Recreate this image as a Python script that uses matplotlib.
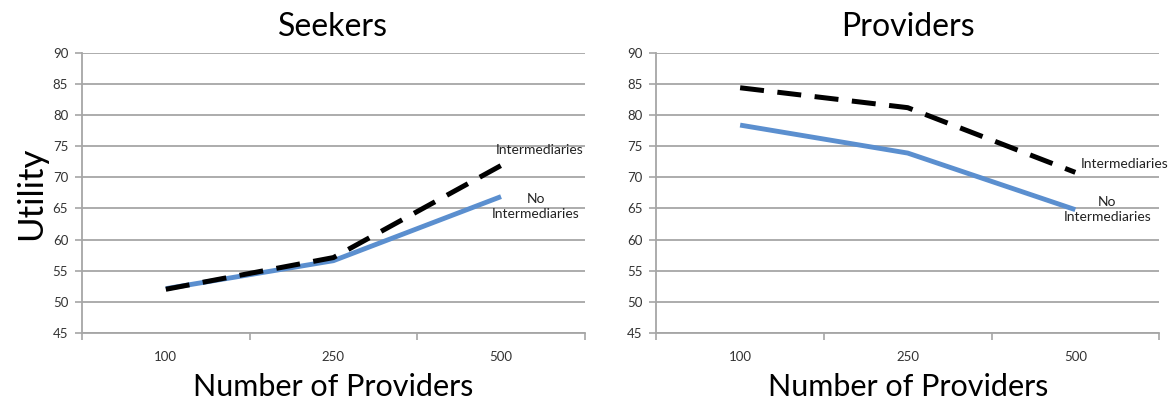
import matplotlib
matplotlib.use("Agg")
import matplotlib.pyplot as plt

plt.rcParams['font.family'] = ['Lato', 'DejaVu Sans']

categories = ['100', '250', '500']
y_ticks = [45, 50, 55, 60, 65, 70, 75, 80, 85, 90]

seekers_no_int = [52.1, 56.6, 66.9]
seekers_int = [52.0, 57.1, 71.9]
providers_no_int = [78.4, 73.9, 64.8]
providers_int = [84.4, 81.2, 70.8]

# title, series, axes rect, label offsets (points) for the two end labels
panels = [
    ('Seekers', seekers_no_int, seekers_int, [0.070, 0.170, 0.429, 0.698],
     (-4, 11), (25, -7)),
    ('Providers', providers_no_int, providers_int, [0.560, 0.170, 0.429, 0.698],
     (4, 6), (23, 0)),
]

fig = plt.figure(figsize=(11.72, 4.01), dpi=100)
grid_col = '#a6a6a6'
blue = '#5b8fcf'

for i, (title, no_int, inter, rect, off_int, off_no) in enumerate(panels):
    ax = fig.add_axes(rect)
    x = list(range(len(categories)))
    ax.plot(x, no_int, color=blue, lw=3.5, solid_capstyle='butt', zorder=3)
    ax.plot(x, inter, color='black', lw=3.6, dashes=(4.8, 2.7), zorder=4)

    ax.set_xlim(-0.5, 2.5)
    ax.set_ylim(45, 90)
    ax.set_yticks(y_ticks)
    ax.set_xticks(x)
    ax.set_xticklabels(categories)
    ax.set_xticks([-0.5, 0.5, 1.5, 2.5], minor=True)
    ax.tick_params(axis='x', which='major', length=0, pad=13, labelsize=9.5, labelcolor='#333333')
    ax.tick_params(axis='x', which='minor', length=5, color=grid_col, width=1.2)
    ax.tick_params(axis='y', length=5, color=grid_col, width=1.2, labelsize=9.5,
                   labelcolor='#333333', pad=5)
    ax.grid(axis='y', color=grid_col, lw=1.3)
    ax.set_axisbelow(True)
    for s in ['top', 'right']:
        ax.spines[s].set_visible(False)
    for s in ['left', 'bottom']:
        ax.spines[s].set_color(grid_col)
        ax.spines[s].set_linewidth(1.3)

    ax.set_title(title, fontsize=23, pad=12)
    ax.set_xlabel('Number of Providers', fontsize=22, labelpad=7)
    if i == 0:
        ax.set_ylabel('Utility', fontsize=25, labelpad=4)

    # series labels next to the last points
    ax.annotate('Intermediaries', (2, inter[-1]), xytext=off_int,
                textcoords='offset points', fontsize=10, color='#222222',
                ha='left', va='center', annotation_clip=False)
    ax.annotate('No\nIntermediaries', (2, no_int[-1]), xytext=off_no,
                textcoords='offset points', fontsize=10, color='#222222',
                ha='center', va='center', linespacing=1.3, annotation_clip=False)

fig.savefig('out.png', dpi=100)
